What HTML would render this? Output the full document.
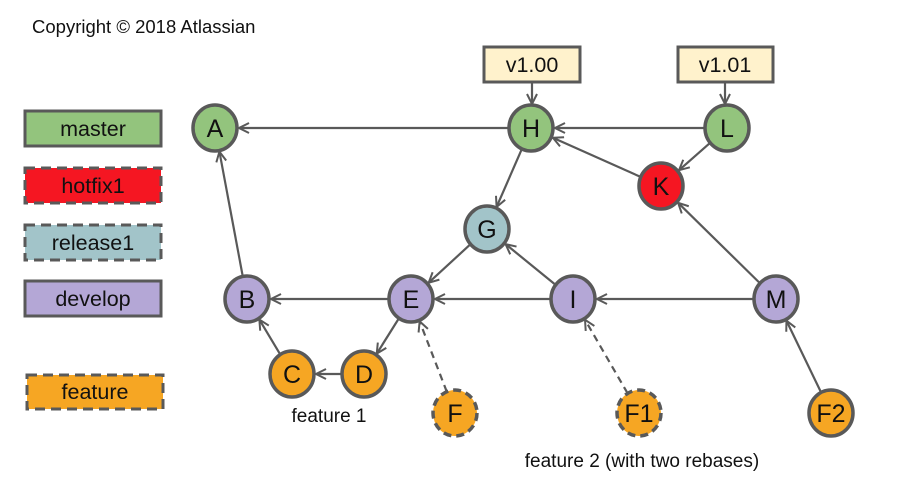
<!DOCTYPE html>
<html><head><meta charset="utf-8">
<style>
html,body{margin:0;padding:0;background:#fff;}
svg{display:block;font-family:"Liberation Sans",Arial,sans-serif;}
</style></head>
<body>
<svg id="s" width="919" height="496" viewBox="0 0 919 496" xmlns="http://www.w3.org/2000/svg">
<defs>
<marker id="ar" viewBox="0 0 12 12" refX="11" refY="6" markerWidth="12" markerHeight="12" markerUnits="userSpaceOnUse" orient="auto">
<path d="M1,1 L11,6 L1,11" fill="none" stroke="#595959" stroke-width="2"/>
</marker>
</defs>
<rect x="0" y="0" width="919" height="496" fill="#fff"/>
<text x="32" y="33" font-size="18.5" fill="#111">Copyright © 2018 Atlassian</text>
<g stroke="#595959" stroke-width="3">
<rect x="25" y="111" width="136" height="35" fill="#93c47d"/>
<rect x="25" y="168" width="136" height="35" fill="#f51622" stroke-dasharray="10,6"/>
<rect x="25" y="225" width="136" height="35" fill="#a2c4c9" stroke-dasharray="10,6"/>
<rect x="25" y="281" width="136" height="35" fill="#b4a7d6"/>
<rect x="27" y="375" width="136" height="34" fill="#f6a623" stroke-dasharray="10,6"/>
<rect x="484" y="47" width="96" height="35" fill="#fff2cc"/>
<rect x="678" y="47" width="95" height="35" fill="#fff2cc"/>
</g>
<g font-size="21.5" fill="#111" text-anchor="middle">
<text x="93" y="136">master</text>
<text x="93" y="193">hotfix1</text>
<text x="93" y="250">release1</text>
<text x="93" y="306">develop</text>
<text x="95" y="399">feature</text>
<text x="532" y="72">v1.00</text>
<text x="725" y="72">v1.01</text>
</g>
<g font-size="19" fill="#111" text-anchor="middle">
<text x="329" y="422">feature 1</text>
<text x="642" y="467">feature 2 (with two rebases)</text>
</g>
<g id="edges"></g>
<g id="nodes"></g>
</svg>
<script>
var N={A:[215,128,'#93c47d'],H:[531,128,'#93c47d'],L:[727,128,'#93c47d'],K:[661,186,'#f51622'],
G:[487,229,'#a2c4c9'],B:[247,299,'#b4a7d6'],E:[411,299,'#b4a7d6'],I:[573,299,'#b4a7d6'],M:[776,299,'#b4a7d6'],
C:[292,374,'#f6a623'],D:[364,374,'#f6a623'],F:[455,413,'#f6a623',1],F1:[639,413,'#f6a623',1],F2:[831,413,'#f6a623']};
var E=[['H','A'],['L','H'],['L','K'],['K','H'],['H','G'],['G','E'],['I','G'],['E','B'],['I','E'],['M','I'],['M','K'],
['B','A'],['C','B'],['D','C'],['E','D'],['F','E',1],['F1','I',1],['F2','M']];
var ns='http://www.w3.org/2000/svg',eg=document.getElementById('edges'),ng=document.getElementById('nodes');
function el(t,a,p){var e=document.createElementNS(ns,t);for(var k in a)e.setAttribute(k,a[k]);p.appendChild(e);return e;}
var R=23;
E.forEach(function(e){var a=N[e[0]],b=N[e[1]];var dx=b[0]-a[0],dy=b[1]-a[1],d=Math.hypot(dx,dy),ux=dx/d,uy=dy/d;
var at={x1:a[0]+ux*R,y1:a[1]+uy*R,x2:b[0]-ux*(R+1),y2:b[1]-uy*(R+1),stroke:'#595959','stroke-width':2.2,'marker-end':'url(#ar)'};
if(e[2])at['stroke-dasharray']='7,5';el('line',at,eg);});
el('line',{x1:532,y1:83,x2:532,y2:104,stroke:'#595959','stroke-width':2.2,'marker-end':'url(#ar)'},eg);
el('line',{x1:725,y1:83,x2:725,y2:104,stroke:'#595959','stroke-width':2.2,'marker-end':'url(#ar)'},eg);
for(var k in N){var n=N[k];var at={cx:n[0],cy:n[1],rx:22,ry:23,fill:n[2],stroke:'#595959','stroke-width':3.5};
if(n[3])at['stroke-dasharray']='8,5';el('ellipse',at,ng);
var t=el('text',{x:n[0],y:n[1]+9,'text-anchor':'middle','font-size':25,fill:'#111'},ng);t.textContent=k;}
</script>
</body></html>
